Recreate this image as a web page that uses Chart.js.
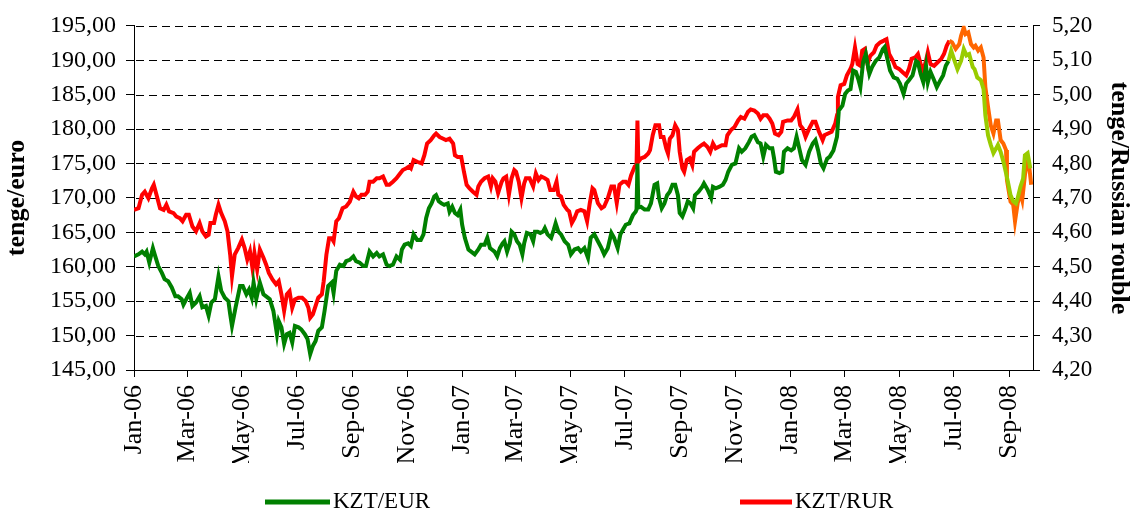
<!DOCTYPE html>
<html>
<head>
<meta charset="utf-8">
<title>KZT/EUR and KZT/RUR</title>
<script src="https://cdn.jsdelivr.net/npm/chart.js@4.4.0/dist/chart.umd.min.js"></script>
<style>
    html, body { margin: 0; padding: 0; background: #fff; }
    #wrap { width: 1130px; height: 513px; }
</style>
</head>
<body>
<div id="wrap"><canvas id="rateChart" width="1130" height="513"></canvas></div>
<script>
// Days counted from 1 Jan 2006
const tickDays = [0, 59, 120, 181, 243, 304, 365, 424, 485, 546, 608, 669, 730, 790, 851, 912, 974];
const tickLabels = ['Jan-06', 'Mar-06', 'May-06', 'Jul-06', 'Sep-06', 'Nov-06', 'Jan-07', 'Mar-07', 'May-07',
    'Jul-07', 'Sep-07', 'Nov-07', 'Jan-08', 'Mar-08', 'May-08', 'Jul-08', 'Sep-08'];
const lastDay = 1000;
const recentFromDay = 905; // last weeks drawn in lighter colours

const eurTicks = [145, 150, 155, 160, 165, 170, 175, 180, 185, 190, 195];
const rurTicks = [4.2, 4.3, 4.4, 4.5, 4.6, 4.7, 4.8, 4.9, 5.0, 5.1, 5.2];

// KZT/EUR, tenge per euro
const eurDays = [0, 5, 9, 12, 14, 17, 21, 23, 27, 31, 34, 38, 42, 46, 49, 53, 55, 59, 62, 65, 69, 73, 76, 80, 83, 86, 90, 94, 97,
    101, 105, 107, 109, 113, 118, 121, 125, 128, 131, 133, 136, 140, 144, 147, 151, 155, 159, 161, 164, 167, 170, 173, 176, 179,
    183, 186, 190, 193, 196, 199, 202, 205, 209, 212, 216, 220, 222, 225, 229, 233, 236, 240, 244, 247, 251, 255, 258, 262, 266,
    270, 273, 277, 281, 284, 288, 292, 296, 298, 301, 305, 308, 311, 315, 319, 322, 325, 328, 331, 334, 336, 339, 342, 345, 349,
    351, 354, 357, 360, 363, 365, 368, 372, 375, 379, 383, 386, 390, 393, 396, 398, 401, 404, 407, 410, 412, 415, 418, 420, 423,
    426, 429, 432, 434, 437, 441, 444, 446, 449, 452, 455, 457, 460, 464, 467, 469, 472, 475, 479, 483, 486, 490, 494, 497, 501,
    505, 508, 512, 516, 520, 523, 527, 531, 534, 538, 541, 544, 547, 551, 555, 558, 559, 560, 561, 564, 568, 572, 575, 579, 582,
    584, 587, 590, 593, 596, 599, 602, 605, 607, 610, 613, 616, 619, 622, 624, 628, 632, 634, 638, 642, 644, 647, 651, 655, 658,
    661, 665, 669, 673, 676, 680, 684, 687, 690, 694, 697, 700, 703, 707, 710, 712, 714, 718, 721, 723, 727, 731, 734, 737, 740,
    743, 747, 751, 755, 758, 761, 764, 767, 771, 774, 778, 782, 784, 788, 791, 794, 797, 800, 803, 806, 808, 811, 814, 818, 821,
    825, 829, 833, 835, 838, 841, 845, 849, 852, 856, 859, 862, 866, 870, 872, 875, 878, 881, 883, 886, 890, 893, 897, 900, 903,
    906, 909, 912, 916, 920, 923, 926, 929, 933, 935, 938, 942, 945, 947, 950, 953, 956, 959, 961, 964, 967, 970, 972, 975, 978,
    981, 983, 986, 989, 991, 994, 997];
const eurRates = [161.5, 161.8, 162.2, 161.8, 162.2, 160.6, 162.7, 161.8, 160.1, 159.1, 158.2, 157.9, 157.0, 155.7, 155.7, 155.3,
    154.5, 155.5, 156.2, 154.3, 154.8, 155.7, 154.1, 154.3, 152.9, 154.8, 155.3, 158.6, 156.5, 155.5, 155.0, 153.1, 151.4, 154.1,
    157.2, 157.2, 156.0, 156.7, 155.5, 157.7, 155.3, 157.7, 156.0, 155.7, 155.3, 153.6, 150.2, 152.1, 151.2, 148.8, 150.2, 150.4,
    149.0, 151.4, 151.2, 150.9, 150.2, 149.5, 147.3, 148.5, 149.2, 150.7, 151.2, 153.6, 157.2, 157.7, 156.2, 159.4, 160.3, 160.1,
    160.8, 161.0, 161.5, 160.8, 160.6, 160.1, 160.1, 162.2, 161.5, 162.0, 161.5, 161.8, 160.3, 160.1, 160.3, 161.5, 161.0, 162.5,
    163.2, 163.4, 163.0, 164.7, 163.9, 163.9, 164.7, 167.1, 168.5, 169.2, 170.2, 170.4, 169.5, 169.2, 169.0, 169.2, 168.0, 168.7,
    167.8, 167.5, 168.3, 166.1, 164.2, 162.5, 162.2, 161.8, 162.5, 163.2, 163.2, 164.2, 162.7, 162.5, 162.2, 161.5, 162.7, 163.4,
    163.7, 162.2, 163.4, 165.1, 164.7, 163.7, 163.2, 161.8, 163.4, 164.9, 164.7, 163.7, 165.1, 165.1, 164.9, 165.1, 165.6, 164.7,
    164.2, 165.4, 166.3, 165.1, 164.7, 163.7, 163.2, 161.8, 162.5, 162.7, 162.2, 162.7, 161.3, 164.2, 164.7, 163.7, 162.7, 161.8,
    162.7, 164.9, 164.2, 162.7, 164.7, 165.4, 166.1, 166.3, 167.5, 168.0, 168.3, 175.0, 168.6, 168.7, 168.3, 168.3, 169.2, 171.9,
    172.1, 170.0, 168.5, 169.2, 170.4, 170.9, 171.9, 171.9, 170.4, 167.8, 167.3, 168.3, 169.5, 169.2, 168.5, 170.4, 170.9, 171.6,
    172.1, 171.2, 170.0, 171.6, 171.4, 171.6, 171.9, 172.6, 173.8, 174.8, 175.0, 177.2, 176.7, 177.2, 178.1, 178.9, 179.1, 178.1,
    177.9, 176.0, 177.7, 177.2, 177.2, 175.7, 173.8, 173.6, 173.8, 176.7, 177.2, 176.9, 177.2, 178.9, 177.2, 175.5, 174.8, 176.7,
    177.9, 178.4, 176.9, 175.0, 174.3, 175.7, 176.0, 176.9, 178.9, 182.7, 183.4, 185.1, 185.6, 185.8, 188.5, 188.3, 187.1, 186.1,
    189.7, 190.9, 188.0, 189.0, 189.9, 190.4, 191.6, 191.9, 190.2, 188.5, 187.5, 187.3, 186.6, 185.1, 186.6, 187.1, 187.8, 189.9,
    189.7, 188.0, 186.8, 189.2, 186.8, 188.3, 187.1, 186.1, 187.1, 187.8, 189.2, 189.9, 191.4, 190.2, 188.7, 189.9, 191.6, 190.7,
    190.9, 189.0, 188.7, 187.5, 187.1, 185.8, 182.0, 179.1, 177.7, 176.5, 177.2, 177.7, 176.7, 175.3, 173.6, 172.4, 170.4, 169.5,
    169.2, 170.0, 171.6, 172.8, 176.2, 176.5, 174.3];

// KZT/RUR, tenge per Russian rouble
const rurDays = [0, 5, 9, 12, 16, 20, 22, 25, 29, 33, 36, 39, 44, 47, 51, 54, 58, 61, 65, 69, 73, 76, 80, 83, 85, 89, 91, 94, 97,
    101, 104, 107, 109, 112, 116, 120, 123, 126, 129, 132, 134, 137, 140, 144, 147, 150, 154, 158, 161, 164, 167, 170, 173, 176,
    179, 183, 187, 191, 194, 196, 199, 202, 205, 209, 211, 214, 217, 220, 222, 225, 228, 232, 236, 240, 244, 247, 250, 253, 257,
    260, 262, 266, 270, 273, 277, 281, 284, 288, 292, 296, 299, 303, 306, 308, 311, 315, 320, 323, 326, 330, 334, 336, 340, 344,
    347, 351, 355, 357, 360, 364, 367, 370, 373, 377, 381, 383, 386, 390, 394, 397, 399, 402, 405, 409, 411, 414, 417, 420, 423,
    425, 428, 431, 434, 436, 440, 444, 447, 450, 453, 457, 460, 463, 467, 470, 472, 475, 478, 482, 484, 487, 490, 493, 497, 501,
    504, 507, 510, 512, 516, 520, 523, 527, 531, 534, 537, 540, 544, 547, 550, 553, 557, 559, 560, 561, 564, 568, 572, 574, 577,
    580, 584, 586, 589, 592, 594, 596, 599, 602, 605, 607, 610, 612, 615, 618, 621, 623, 627, 631, 634, 638, 641, 644, 647, 650,
    654, 658, 660, 664, 668, 672, 675, 679, 683, 686, 690, 694, 697, 700, 704, 707, 710, 713, 717, 720, 722, 727, 731, 734, 738,
    741, 744, 747, 751, 755, 758, 762, 766, 768, 772, 776, 780, 782, 783, 786, 790, 793, 797, 799, 802, 805, 808, 810, 813, 816,
    819, 823, 826, 830, 834, 837, 840, 844, 847, 851, 855, 859, 862, 865, 869, 872, 875, 878, 881, 883, 886, 890, 894, 898, 901,
    904, 907, 910, 914, 918, 920, 923, 925, 928, 931, 934, 936, 939, 942, 945, 947, 950, 953, 956, 959, 961, 964, 967, 970, 971,
    975, 978, 980, 983, 986, 988, 991, 993, 996, 998];
const rurRates = [4.665, 4.670, 4.709, 4.718, 4.699, 4.728, 4.738, 4.709, 4.670, 4.665, 4.680, 4.661, 4.656, 4.646, 4.641, 4.632,
    4.651, 4.651, 4.617, 4.603, 4.627, 4.603, 4.588, 4.593, 4.627, 4.627, 4.651, 4.680, 4.656, 4.632, 4.603, 4.535, 4.473, 4.535,
    4.555, 4.579, 4.555, 4.521, 4.545, 4.492, 4.540, 4.492, 4.550, 4.526, 4.506, 4.482, 4.463, 4.449, 4.458, 4.420, 4.372, 4.420,
    4.429, 4.381, 4.405, 4.410, 4.410, 4.400, 4.381, 4.352, 4.362, 4.386, 4.410, 4.420, 4.458, 4.535, 4.583, 4.583, 4.574, 4.632,
    4.641, 4.670, 4.675, 4.689, 4.718, 4.704, 4.699, 4.709, 4.709, 4.718, 4.747, 4.747, 4.757, 4.757, 4.762, 4.738, 4.738, 4.747,
    4.757, 4.771, 4.781, 4.786, 4.791, 4.786, 4.810, 4.805, 4.800, 4.824, 4.858, 4.868, 4.882, 4.887, 4.877, 4.872, 4.868, 4.872,
    4.858, 4.824, 4.819, 4.819, 4.776, 4.738, 4.728, 4.718, 4.709, 4.733, 4.747, 4.757, 4.762, 4.733, 4.757, 4.747, 4.714, 4.747,
    4.757, 4.762, 4.709, 4.757, 4.781, 4.776, 4.747, 4.699, 4.742, 4.757, 4.757, 4.733, 4.771, 4.752, 4.762, 4.757, 4.752, 4.723,
    4.723, 4.747, 4.709, 4.704, 4.680, 4.665, 4.661, 4.627, 4.641, 4.661, 4.665, 4.661, 4.632, 4.685, 4.728, 4.723, 4.685, 4.670,
    4.675, 4.699, 4.733, 4.733, 4.685, 4.738, 4.747, 4.747, 4.738, 4.766, 4.791, 4.795, 4.925, 4.805, 4.815, 4.819, 4.829, 4.839,
    4.882, 4.911, 4.911, 4.877, 4.877, 4.844, 4.829, 4.872, 4.882, 4.911, 4.897, 4.834, 4.786, 4.776, 4.810, 4.815, 4.795, 4.834,
    4.844, 4.853, 4.858, 4.848, 4.834, 4.858, 4.844, 4.848, 4.853, 4.853, 4.882, 4.897, 4.906, 4.925, 4.935, 4.930, 4.950, 4.957,
    4.954, 4.945, 4.930, 4.940, 4.940, 4.930, 4.916, 4.887, 4.882, 4.892, 4.921, 4.925, 4.925, 4.935, 4.957, 4.911, 4.901, 4.877,
    4.901, 4.921, 4.921, 4.892, 4.868, 4.882, 4.887, 4.892, 4.916, 4.940, 4.993, 5.027, 5.031, 5.056, 5.075, 5.089, 5.137, 5.089,
    5.084, 5.128, 5.133, 5.089, 5.113, 5.123, 5.142, 5.152, 5.157, 5.161, 5.118, 5.099, 5.080, 5.075, 5.065, 5.056, 5.075, 5.104,
    5.108, 5.118, 5.089, 5.070, 5.099, 5.123, 5.089, 5.084, 5.094, 5.104, 5.118, 5.142, 5.157, 5.152, 5.133, 5.147, 5.171, 5.195,
    5.176, 5.181, 5.147, 5.137, 5.142, 5.128, 5.137, 5.108, 5.022, 4.964, 4.911, 4.887, 4.925, 4.925, 4.868, 4.858, 4.839, 4.752,
    4.689, 4.680, 4.632, 4.685, 4.714, 4.694, 4.766, 4.800, 4.786, 4.738];

const eurColor = '#008000';
const eurRecentColor = '#99cc00';
const rurColor = '#ff0000';
const rurRecentColor = '#ff6600';

const fontFamily = "'Liberation Serif', 'Times New Roman', serif";
Chart.defaults.font.family = fontFamily;
Chart.defaults.color = '#000';

const toPoints = (days, values) => days.map((d, i) => ({ x: d, y: values[i] }));
const commaLabel = value => value.toFixed(2).replace('.', ',');

// Dashed horizontal grid, drawn under the lines (dash by dash)
const dashedGrid = {
    id: 'dashedGrid',
    beforeDatasetsDraw(chart) {
        const { ctx, chartArea, scales } = chart;
        const dash = 8, gap = 5;
        ctx.save();
        ctx.fillStyle = '#000';
        eurTicks.forEach(v => {
            const y = Math.round(scales.y.getPixelForValue(v));
            for (let x = chartArea.left + 2; x < chartArea.right; x += dash + gap) {
                ctx.fillRect(Math.round(x), y, Math.min(dash, chartArea.right - x), 1);
            }
        });
        ctx.restore();
    }
};

// Legend under the chart, items spread apart like the original
const bottomLegend = {
    id: 'bottomLegend',
    afterDraw(chart) {
        const ctx = chart.ctx;
        const items = [
            { x: 265, width: 65, text: 'KZT/EUR', color: eurColor },
            { x: 740, width: 52, text: 'KZT/RUR', color: rurColor }
        ];
        const y = 502;
        ctx.save();
        ctx.font = '23px ' + fontFamily;
        ctx.textBaseline = 'middle';
        ctx.fillStyle = '#000';
        items.forEach(item => {
            ctx.strokeStyle = item.color;
            ctx.lineWidth = 5;
            ctx.beginPath();
            ctx.moveTo(item.x, y);
            ctx.lineTo(item.x + item.width, y);
            ctx.stroke();
            ctx.fillText(item.text, item.x + item.width + 3, y);
        });
        ctx.restore();
    }
};

new Chart(document.getElementById('rateChart'), {
    type: 'line',
    data: {
        datasets: [{
            label: 'KZT/EUR',
            data: toPoints(eurDays, eurRates),
            yAxisID: 'y',
            borderColor: eurColor,
            borderWidth: 4,
            pointRadius: 0,
            tension: 0,
            segment: {
                borderColor: ctx => ctx.p0.parsed.x >= recentFromDay ? eurRecentColor : eurColor
            }
        }, {
            label: 'KZT/RUR',
            data: toPoints(rurDays, rurRates),
            yAxisID: 'y1',
            borderColor: rurColor,
            borderWidth: 4,
            pointRadius: 0,
            tension: 0,
            segment: {
                borderColor: ctx => ctx.p0.parsed.x >= recentFromDay ? rurRecentColor : rurColor
            }
        }]
    },
    options: {
        responsive: false,
        animation: false,
        devicePixelRatio: 1,
        layout: { padding: { top: 23, bottom: 50, left: 0, right: 0 } },
        plugins: {
            legend: { display: false },
            tooltip: { enabled: false }
        },
        scales: {
            x: {
                type: 'linear',
                min: 0,
                max: lastDay,
                afterBuildTicks: scale => {
                    scale.ticks = tickDays.map(d => ({ value: d }));
                },
                afterFit: scale => { scale.height = 93; },
                ticks: {
                    autoSkip: false,
                    minRotation: 90,
                    maxRotation: 90,
                    padding: 8,
                    font: { size: 26 },
                    callback: (value, index) => tickLabels[index]
                },
                grid: {
                    drawOnChartArea: false,
                    drawTicks: true,
                    tickLength: 7,
                    color: '#000'
                },
                border: { color: '#000', width: 1 }
            },
            y: {
                position: 'left',
                min: 145,
                max: 195,
                afterBuildTicks: scale => {
                    scale.ticks = eurTicks.map(v => ({ value: v }));
                },
                afterFit: scale => { scale.width = 134; },
                ticks: {
                    padding: 10,
                    font: { size: 24 },
                    callback: value => commaLabel(value)
                },
                grid: {
                    drawOnChartArea: false,
                    tickLength: 8,
                    color: '#000'
                },
                border: { color: '#000', width: 1 },
                title: {
                    display: true,
                    text: 'tenge/euro',
                    font: { size: 26, weight: 'bold' },
                    padding: { top: 2, bottom: 0 }
                }
            },
            y1: {
                position: 'right',
                min: 4.2,
                max: 5.2,
                afterBuildTicks: scale => {
                    scale.ticks = rurTicks.map(v => ({ value: v }));
                },
                afterFit: scale => { scale.width = 97; },
                ticks: {
                    padding: 12,
                    font: { size: 23 },
                    callback: value => commaLabel(value)
                },
                grid: {
                    drawOnChartArea: false,
                    tickLength: 7,
                    color: '#000'
                },
                border: { color: '#000', width: 1 },
                title: {
                    display: true,
                    text: 'tenge/Russian rouble',
                    font: { size: 26, weight: 'bold' },
                    padding: { top: -4, bottom: 0 }
                }
            }
        }
    },
    plugins: [dashedGrid, bottomLegend]
});
</script>
</body>
</html>
